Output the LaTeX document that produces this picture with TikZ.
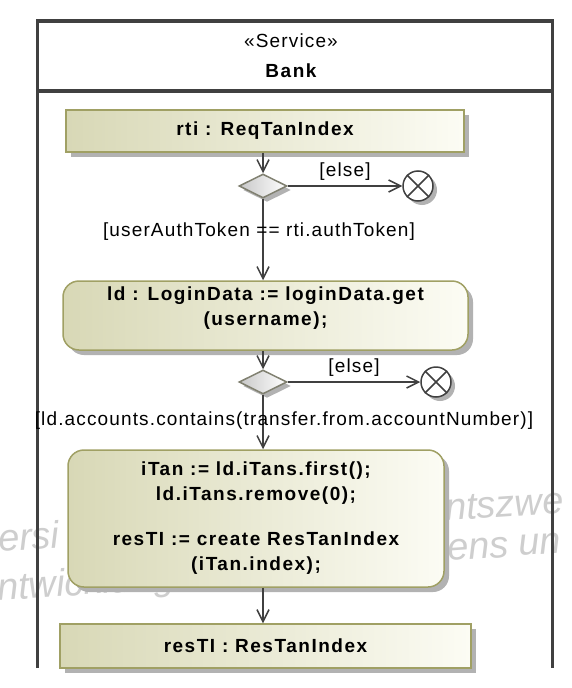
\documentclass[tikz,border=0pt]{standalone}
\usepackage{fontspec}
\setmainfont{Liberation Sans}[LetterSpace=6, BoldFeatures={LetterSpace=8}, ItalicFeatures={LetterSpace=0}]
\usetikzlibrary{arrows.meta, shapes.geometric, shadows}

\definecolor{frameclr}{RGB}{64,64,64}
\definecolor{lineclr}{RGB}{64,64,64}
\definecolor{actleft}{RGB}{216,216,182}
\definecolor{actright}{RGB}{252,252,244}
\definecolor{actborder}{RGB}{160,160,100}
\definecolor{decleft}{RGB}{200,200,200}
\definecolor{decborder}{RGB}{128,128,112}
\definecolor{shadowclr}{RGB}{178,178,178}
\definecolor{wmclr}{RGB}{206,206,206}

\begin{document}
\begin{tikzpicture}[x=1pt, y=-1pt, >={Straight Barb[length=12pt,width=12pt]},
                every node/.style={font=\fontsize{19}{25}\selectfont},
                frame/.style={draw=frameclr, line width=3.5pt},
                objbox/.style={rectangle, draw=actborder, line width=1.5pt, left color=actleft, right color=actright,
                    drop shadow={shadow xshift=5pt, shadow yshift=-5pt, fill=shadowclr, opacity=1},
                    font=\fontsize{19}{25}\selectfont\bfseries, align=center},
                actbox/.style={objbox, rounded corners=16pt},
                decision/.style={diamond, draw=decborder, line width=1.5pt, left color=decleft, right color=white,
                    minimum width=48pt, minimum height=24pt, inner sep=0pt,
                    drop shadow={shadow xshift=4pt, shadow yshift=-4pt, fill=shadowclr, opacity=1}},
                flowfinal/.style={circle, draw=lineclr, line width=1.5pt, fill=white, minimum size=30pt, inner sep=0pt,
                    drop shadow={shadow xshift=4pt, shadow yshift=-4pt, fill=shadowclr, opacity=1}},
                flow/.style={->, draw=lineclr, line width=1.5pt},
                watermark/.style={text=wmclr, font=\fontsize{38}{38}\selectfont\itshape, rotate=4, anchor=base west, inner sep=0pt}
            ]

            \useasboundingbox[fill=white] (0,0) rectangle (572,688);

            % Watermark
            \begin{scope}
                \clip (0,0) rectangle (572,688);
                \node[watermark] (wm1) at (-1,552) {ersi};
                \node[watermark] (wm2) at (446,521) {ntszwe};
                \node[watermark] (wm3) at (-2,601) {ntwicklung -};
                \node[watermark] (wm4) at (448,561) {ens un};
            \end{scope}

            % Frame with header
            \draw[frame] (37.5,668) |- (552.7,21) -- (552.7,668);
            \draw[frame] (37.5,91) -- (552.7,91);
            \node (stereo) at (291,41) {«Service»};
            \node[font=\fontsize{19}{25}\selectfont\bfseries] (bank) at (291,71) {Bank};

            % Nodes
            \node[objbox, minimum width=398pt, minimum height=42pt] (rti) at (265,131) {rti : ReqTanIndex};
            \node[decision] (dec1) at (263,186) {};
            \node[flowfinal] (fin1) at (418,186) {};

            \node[actbox, minimum width=405pt, minimum height=69pt] (ld) at (265.5,315.5) {
                    ld : LoginData := loginData.get\\
                    (username);\\[-6pt]
                };
            \node[decision] (dec2) at (263,382) {};
            \node[flowfinal] (fin2) at (436,382) {};

            \node[actbox, minimum width=376pt, minimum height=137pt] (itan) at (256,518.5) {
                    iTan := ld.iTans.first();\\
                    ld.iTans.remove(0);\\[20pt]
                    resTI := create ResTanIndex\\
                    (iTan.index);
                };
            \node[objbox, minimum width=411pt, minimum height=44pt] (resti) at (265.5,646) {resTI : ResTanIndex};

            % Flow final crosses
            \foreach \f in {fin1, fin2}
                \draw[draw=lineclr, line width=1.5pt] (\f.north west) -- (\f.south east) (\f.north east) -- (\f.south west);

            % Control flows
            \draw[flow] (dec1 |- rti.south) -- (dec1.north);
            \draw[flow] (dec1.east) -- (fin1) node[midway, above=1pt] (else1) {[else]};
            \draw[flow] (dec1.south) -- (dec1 |- ld.north)
                node[pos=0.4, xshift=-4pt] (guard1) {[userAuthToken == rti.authToken]};

            \draw[flow] (dec2 |- ld.south) -- (dec2.north);
            \draw[flow] (dec2.east) -- (fin2) node[midway, above=1pt] (else2) {[else]};
            \draw[flow] (dec2.south) -- (dec2 |- itan.north)
                node[pos=0.48, xshift=21pt] (guard2) {[ld.accounts.contains(transfer.from.accountNumber)]};

            \draw[flow] (dec2 |- itan.south) -- (dec2 |- resti.north);

        \end{tikzpicture}
\end{document}
